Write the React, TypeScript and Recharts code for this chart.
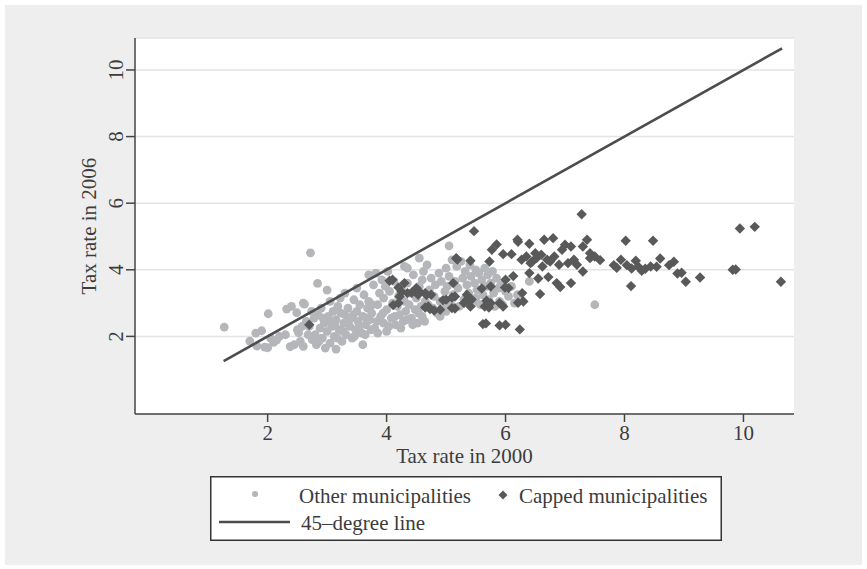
import React from 'react';
import { ScatterChart, Scatter, XAxis, YAxis, CartesianGrid, Label } from 'recharts';

// axis ticks (both axes use the same steps)
const xTicks = [2, 4, 6, 8, 10];
const yTicks = [2, 4, 6, 8, 10];
const lineEnds = [1.26, 10.65];

// tax rate 2000 / 2006, non-capped municipalities
const otherPts: [number, number][] = [
  [1.27, 2.28], [1.7, 1.86], [1.82, 1.71], [1.9, 2.17], [1.8, 2.1], [1.95, 1.68], [2.0, 1.66], [2.01, 2.68],
  [2.05, 1.95], [2.1, 1.82], [2.15, 1.89], [2.2, 2.0], [2.3, 2.05], [2.32, 2.82], [2.38, 1.69], [2.4, 2.9],
  [2.45, 1.75], [2.49, 2.71], [2.5, 2.2], [2.52, 2.11], [2.55, 1.85], [2.6, 3.0], [2.62, 2.97], [2.65, 2.45],
  [2.6, 1.7], [2.7, 2.3], [2.72, 4.51], [2.75, 1.9], [2.78, 2.55], [2.8, 2.05], [2.82, 1.75], [2.84, 3.59],
  [2.85, 2.65], [2.88, 2.25], [2.9, 2.85], [2.92, 1.95], [2.95, 2.4], [2.97, 1.65], [3.0, 3.39], [3.0, 2.15],
  [3.02, 2.6], [3.05, 3.05], [3.05, 1.8], [3.08, 2.3], [3.1, 2.75], [3.12, 2.0], [3.15, 2.5], [3.15, 1.62],
  [3.18, 2.9], [3.2, 2.2], [3.22, 3.15], [3.25, 1.85], [3.28, 2.4], [3.3, 2.65], [3.3, 3.3], [3.32, 2.05],
  [3.35, 2.85], [3.38, 2.3], [3.4, 2.55], [3.42, 1.95], [3.45, 3.1], [3.48, 2.2], [3.5, 2.75], [3.5, 3.45],
  [3.52, 2.45], [3.55, 2.95], [3.58, 2.1], [3.6, 1.75], [3.6, 2.6], [3.62, 3.25], [3.65, 2.35], [3.68, 2.85],
  [3.7, 3.85], [3.7, 3.05], [3.72, 2.5], [3.75, 2.7], [3.78, 3.55], [3.8, 2.25], [3.82, 3.9], [3.85, 2.1],
  [3.85, 2.95], [3.88, 3.3], [3.9, 2.6], [3.92, 3.7], [3.95, 2.4], [3.95, 3.15], [3.98, 3.5], [4.0, 2.15],
  [4.0, 2.8], [4.02, 3.95], [4.05, 3.35], [4.08, 2.55], [4.1, 3.0], [4.12, 3.65], [4.15, 2.35], [4.18, 2.9],
  [4.2, 3.2], [4.22, 2.65], [4.25, 3.45], [4.28, 2.45], [4.3, 4.1], [4.3, 3.05], [4.32, 2.75], [4.35, 3.6],
  [4.35, 4.05], [4.38, 2.95], [4.4, 3.3], [4.42, 2.55], [4.45, 3.85], [4.48, 2.8], [4.5, 3.15], [4.52, 2.4],
  [4.55, 4.35], [4.55, 3.5], [4.58, 2.9], [4.6, 2.6], [4.6, 3.7], [4.62, 3.95], [4.65, 3.05], [4.68, 4.15],
  [4.7, 2.95], [4.72, 3.4], [4.75, 3.75], [4.8, 3.2], [4.82, 3.55], [4.85, 2.7], [4.88, 3.9], [4.9, 3.05],
  [4.92, 3.65], [4.95, 2.85], [4.98, 3.35], [5.0, 4.05], [5.02, 3.5], [5.05, 4.72], [5.05, 3.8], [5.08, 2.95],
  [5.1, 4.3], [5.12, 3.25], [5.15, 3.65], [5.18, 4.1], [5.2, 3.45], [5.22, 2.9], [5.25, 4.25], [5.28, 3.75],
  [5.3, 3.1], [5.32, 3.95], [5.35, 3.55], [5.38, 3.3], [5.4, 4.15], [5.42, 3.8], [5.45, 3.0], [5.48, 3.6],
  [5.5, 4.0], [5.5, 3.15], [5.52, 3.4], [5.55, 3.9], [5.58, 2.95], [5.6, 3.7], [5.62, 3.25], [5.65, 4.05],
  [5.68, 3.5], [5.7, 3.85], [5.72, 3.1], [5.75, 3.6], [5.78, 3.95], [5.8, 3.3], [5.82, 2.9], [5.85, 3.75],
  [5.88, 3.45], [5.9, 3.05], [5.92, 3.55], [5.95, 2.95], [6.0, 3.35], [6.05, 3.2], [6.1, 3.5], [6.15, 3.0],
  [6.2, 3.25], [6.25, 3.1], [6.4, 3.65], [7.5, 2.95],
  [2.58, 2.3], [2.68, 2.05], [2.74, 2.75], [2.86, 1.85], [2.93, 2.55], [3.03, 2.45], [3.13, 2.35], [3.17, 1.95],
  [3.23, 2.7], [3.27, 2.15], [3.36, 2.45], [3.44, 2.65], [3.46, 2.0], [3.54, 2.3], [3.64, 2.05], [3.66, 2.55],
  [3.74, 2.2], [3.76, 2.95], [3.84, 2.45], [3.94, 2.7], [4.04, 2.3], [4.14, 2.6], [4.24, 2.25], [4.34, 2.5],
  [4.44, 2.35], [4.54, 2.7], [4.64, 2.45], [4.78, 2.85], [4.9, 2.6], [5.0, 2.75],
];

// capped municipalities
const cappedPts: [number, number][] = [
  [2.7, 2.35],
  [4.05, 3.67], [4.1, 3.7], [4.2, 3.47], [4.25, 3.34], [4.3, 3.6], [4.22, 3.2], [4.11, 2.94], [4.2, 3.0],
  [4.35, 3.3], [4.42, 3.31], [4.5, 3.45], [4.53, 3.25], [4.55, 3.35], [4.65, 3.3], [4.67, 3.24], [4.65, 2.87],
  [4.73, 2.82], [4.75, 3.25], [4.8, 2.78], [4.7, 2.9], [4.9, 2.8], [4.95, 3.09], [5.0, 3.1], [5.1, 3.17],
  [5.1, 2.85], [5.15, 2.84], [5.15, 3.2], [5.17, 4.35], [5.19, 4.31], [5.12, 3.6], [5.35, 3.1], [5.35, 3.25],
  [5.3, 3.0], [5.41, 2.9], [5.41, 4.27], [5.43, 3.11], [5.47, 5.16], [5.6, 3.44], [5.62, 2.37], [5.67, 2.39],
  [5.65, 2.9], [5.68, 3.07], [5.72, 2.87], [5.73, 4.25], [5.75, 3.5], [5.75, 3.0], [5.77, 4.6], [5.85, 4.76],
  [5.9, 2.33], [5.9, 3.0], [5.96, 2.9], [5.96, 4.47], [5.99, 3.47], [6.0, 2.35], [6.0, 3.7], [6.05, 3.45],
  [6.1, 4.47], [6.13, 3.81], [6.2, 4.9], [6.21, 4.84], [6.21, 3.01], [6.24, 2.21], [6.27, 4.3], [6.28, 3.3],
  [6.3, 3.05], [6.35, 4.4], [6.4, 4.78], [6.4, 3.9], [6.42, 4.2], [6.45, 4.25], [6.5, 4.5], [6.52, 4.35],
  [6.55, 3.74], [6.58, 3.27], [6.6, 4.45], [6.62, 4.1], [6.65, 4.9], [6.7, 4.3], [6.72, 3.78], [6.75, 4.25],
  [6.8, 4.95], [6.82, 4.4], [6.86, 3.6], [6.9, 4.15], [6.92, 3.48], [6.95, 4.6], [7.0, 4.75], [7.05, 4.2],
  [7.1, 4.7], [7.1, 3.6], [7.15, 4.3], [7.2, 4.15], [7.28, 5.67], [7.3, 4.7], [7.3, 3.95], [7.37, 4.9],
  [7.42, 4.5], [7.42, 4.35], [7.5, 4.4], [7.59, 4.29], [7.82, 4.14], [7.87, 4.06], [7.94, 4.3], [8.02, 4.87],
  [8.04, 4.14], [8.11, 3.51], [8.12, 4.04], [8.19, 4.27], [8.23, 4.1], [8.29, 3.97], [8.35, 4.03], [8.44, 4.1],
  [8.48, 4.87], [8.54, 4.09], [8.6, 4.34], [8.75, 4.14], [8.83, 4.24], [8.89, 3.89], [8.96, 3.91], [9.03, 3.64],
  [9.27, 3.77], [9.82, 4.0], [9.87, 4.01], [9.94, 5.24], [10.19, 5.29], [10.63, 3.64],
];

const toXY = (arr: [number, number][]) => arr.map(([x, y]) => ({ x, y }));
const otherData = toXY(otherPts);
const cappedData = toXY(cappedPts);
const lineData = lineEnds.map((v) => ({ x: v, y: v }));

const FONT = '"Liberation Serif", "DejaVu Serif", serif';
const INK = '#3c3c3c';
const AXIS = '#444444';
const LIGHT = '#b4b6b9';
const DARK = '#595959';

const Dot = (p: any) => <circle cx={p.cx} cy={p.cy} r={4.4} fill={LIGHT} />;
const Diamond = (p: any) => {
  const s = 5.2;
  return (
    <polygon
      points={`${p.cx},${p.cy - s} ${p.cx + s},${p.cy} ${p.cx},${p.cy + s} ${p.cx - s},${p.cy}`}
      fill={DARK}
    />
  );
};
const NoMark = () => <g />;

const XTick = ({ x, y, payload }: any) => (
  <text x={x} y={y + 16} textAnchor="middle" fontFamily={FONT} fontSize={21} fill={INK}>
    {payload.value}
  </text>
);

const YTick = ({ x, y, payload }: any) => (
  <text
    x={x - 1}
    y={y}
    transform={`rotate(-90, ${x - 1}, ${y})`}
    textAnchor="middle"
    fontFamily={FONT}
    fontSize={21}
    fill={INK}
  >
    {payload.value}
  </text>
);

const Legend = () => (
  <svg width={512} height={65} style={{ position: 'absolute', left: 210, top: 476 }}>
    <rect x={0.75} y={0.75} width={510.5} height={63.5} fill="#ffffff" stroke="#333333" strokeWidth={1.5} />
    <circle cx={45} cy={18} r={3} fill={LIGHT} />
    <text x={89} y={27} fontFamily={FONT} fontSize={21} fill={INK}>Other municipalities</text>
    <polygon points="293,14.5 297.5,19 293,23.5 288.5,19" fill={DARK} />
    <text x={309} y={27} fontFamily={FONT} fontSize={21} fill={INK}>Capped municipalities</text>
    <line x1={9} y1={46} x2={80} y2={46} stroke="#4d4d4d" strokeWidth={2.6} />
    <text x={91} y={54} fontFamily={FONT} fontSize={21} fill={INK}>45–degree line</text>
  </svg>
);

export default function App() {
  return (
    <div style={{ position: 'absolute', left: 0, top: 0, width: 867, height: 569, background: '#ffffff' }}>
      <div style={{ position: 'absolute', left: 5, top: 5, width: 857, height: 560, background: '#eeeeee' }} />
      <div style={{ position: 'absolute', left: 0, top: 0 }}>
        <ScatterChart width={867} height={569} margin={{ top: 38, right: 73, bottom: 0, left: 0 }}>
          <CartesianGrid vertical={false} stroke="#e3e3e3" strokeWidth={1.5} fill="#ffffff" fillOpacity={1} />
          <XAxis
            type="number"
            dataKey="x"
            domain={[-0.23, 10.85]}
            allowDataOverflow
            ticks={xTicks}
            height={155}
            tickSize={8}
            axisLine={{ stroke: AXIS, strokeWidth: 1.5 }}
            tickLine={{ stroke: AXIS, strokeWidth: 1.5 }}
            tick={<XTick />}
          >
            <Label
              content={({ viewBox }: any) => (
                <text
                  x={viewBox.x + viewBox.width / 2}
                  y={viewBox.y + 49}
                  textAnchor="middle"
                  fontFamily={FONT}
                  fontSize={21}
                  fill={INK}
                >
                  Tax rate in 2000
                </text>
              )}
            />
          </XAxis>
          <YAxis
            type="number"
            dataKey="y"
            domain={[-0.33, 10.96]}
            allowDataOverflow
            ticks={yTicks}
            width={135}
            tickSize={9}
            axisLine={{ stroke: AXIS, strokeWidth: 1.5 }}
            tickLine={{ stroke: AXIS, strokeWidth: 1.5 }}
            tick={<YTick />}
          >
            <Label
              content={({ viewBox }: any) => {
                const cx = 96;
                const cy = viewBox.y + viewBox.height / 2;
                return (
                  <text
                    x={cx}
                    y={cy}
                    transform={`rotate(-90, ${cx}, ${cy})`}
                    textAnchor="middle"
                    fontFamily={FONT}
                    fontSize={21}
                    fill={INK}
                  >
                    Tax rate in 2006
                  </text>
                );
              }}
            />
          </YAxis>
          <Scatter data={otherData} shape={Dot} isAnimationActive={false} />
          <Scatter data={cappedData} shape={Diamond} isAnimationActive={false} />
          <Scatter
            data={lineData}
            shape={NoMark}
            line={{ stroke: '#4d4d4d', strokeWidth: 2.6 }}
            isAnimationActive={false}
          />
        </ScatterChart>
      </div>
      <Legend />
    </div>
  );
}
